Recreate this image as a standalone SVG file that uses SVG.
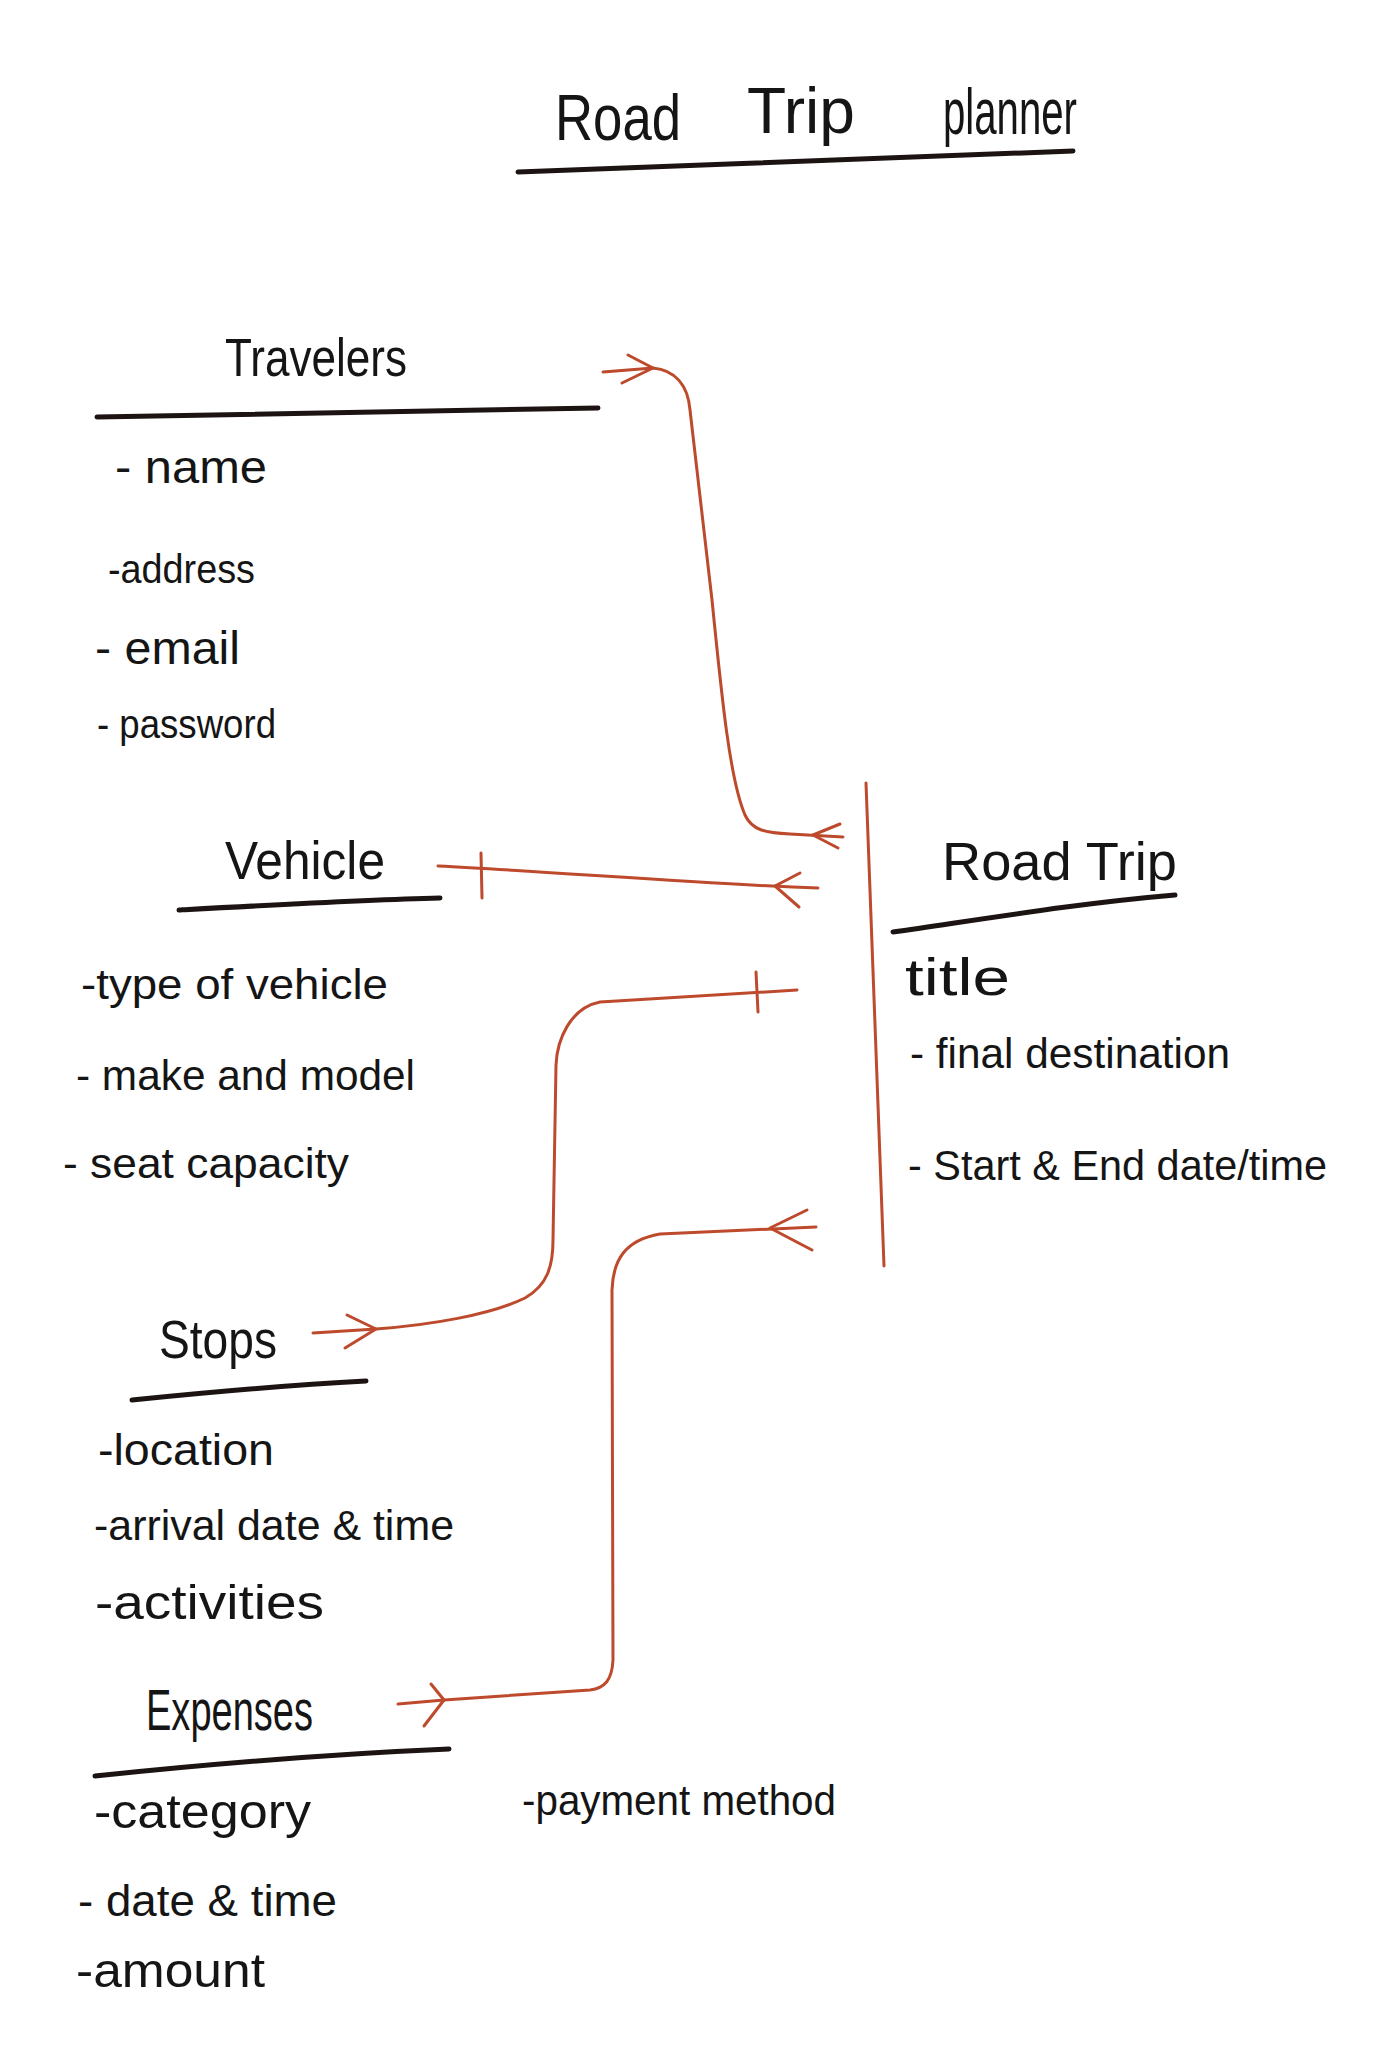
<svg xmlns="http://www.w3.org/2000/svg" width="1393" height="2048" viewBox="0 0 1393 2048">
<style>
  text { font-family: "Liberation Sans", Arial, sans-serif; fill: #151515; }
  .title { font-size: 64px; }
  .hdr { font-size: 54px; }
  .attr { font-size: 42px; }
  .ul { stroke: #1c1412; stroke-width: 5; stroke-linecap: round; fill: none; }
  .conn { stroke: #bd4a2c; stroke-width: 3; fill: none; stroke-linecap: round; stroke-linejoin: round; }
</style>
<rect width="1393" height="2048" fill="#ffffff"/>

<g id="title">
  <text class="title" x="555" y="140" textLength="126" lengthAdjust="spacingAndGlyphs">Road</text>
  <text class="title" x="747" y="133" textLength="108" lengthAdjust="spacingAndGlyphs">Trip</text>
  <text class="title" x="943" y="134" textLength="134" lengthAdjust="spacingAndGlyphs">planner</text>
  <path class="ul" d="M518,172 C700,166 900,156 1073,151"/>
</g>

<g id="travelers">
  <text class="hdr" x="225" y="376" textLength="182" lengthAdjust="spacingAndGlyphs">Travelers</text>
  <path class="ul" d="M97,417 C300,413 450,410 598,408"/>
  <text class="attr" x="115" y="483" style="font-size:46px" textLength="152" lengthAdjust="spacingAndGlyphs">- name</text>
  <text class="attr" x="108" y="583" style="font-size:40px" textLength="147" lengthAdjust="spacingAndGlyphs">-address</text>
  <text class="attr" x="95" y="664" style="font-size:46px" textLength="145" lengthAdjust="spacingAndGlyphs">- email</text>
  <text class="attr" x="97" y="738" style="font-size:40px" textLength="179" lengthAdjust="spacingAndGlyphs">- password</text>
</g>

<g id="vehicle">
  <text class="hdr" x="225" y="879" textLength="160" lengthAdjust="spacingAndGlyphs">Vehicle</text>
  <path class="ul" d="M179,910 C270,905 360,900 440,898"/>
  <text class="attr" x="81" y="999" textLength="307" lengthAdjust="spacingAndGlyphs">-type of vehicle</text>
  <text class="attr" x="76" y="1090" textLength="339" lengthAdjust="spacingAndGlyphs">- make and model</text>
  <text class="attr" x="63" y="1178" textLength="286" lengthAdjust="spacingAndGlyphs">- seat capacity</text>
</g>

<g id="stops">
  <text class="hdr" x="159" y="1358" textLength="118" lengthAdjust="spacingAndGlyphs">Stops</text>
  <path class="ul" d="M132,1400 C210,1392 290,1385 366,1381"/>
  <text class="attr" x="98" y="1465" style="font-size:44px" textLength="176" lengthAdjust="spacingAndGlyphs">-location</text>
  <text class="attr" x="94" y="1540" textLength="360" lengthAdjust="spacingAndGlyphs">-arrival date &amp; time</text>
  <text class="attr" x="95" y="1619" style="font-size:48px" textLength="229" lengthAdjust="spacingAndGlyphs">-activities</text>
</g>

<g id="expenses">
  <text class="hdr" x="146" y="1730" style="font-size:58px" textLength="167" lengthAdjust="spacingAndGlyphs">Expenses</text>
  <path class="ul" d="M95,1776 C210,1764 330,1754 449,1749"/>
  <text class="attr" x="94" y="1828" style="font-size:48px" textLength="217" lengthAdjust="spacingAndGlyphs">-category</text>
  <text class="attr" x="78" y="1916" style="font-size:44px" textLength="259" lengthAdjust="spacingAndGlyphs">- date &amp; time</text>
  <text class="attr" x="76" y="1987" style="font-size:48px" textLength="189" lengthAdjust="spacingAndGlyphs">-amount</text>
  <text class="attr" x="522" y="1815" textLength="314" lengthAdjust="spacingAndGlyphs">-payment method</text>
</g>

<g id="road-trip">
  <path class="conn" d="M866,783 L884,1266"/>
  <text class="hdr" x="942" y="880" textLength="235" lengthAdjust="spacingAndGlyphs">Road Trip</text>
  <path class="ul" d="M893,932 C990,918 1080,903 1175,895"/>
  <text class="attr" x="905" y="995" style="font-size:52px" textLength="105" lengthAdjust="spacingAndGlyphs">title</text>
  <text class="attr" x="910" y="1068" textLength="320" lengthAdjust="spacingAndGlyphs">- final destination</text>
  <text class="attr" x="908" y="1180" textLength="419" lengthAdjust="spacingAndGlyphs">- Start &amp; End date/time</text>
</g>

<g id="connectors">
  <!-- Travelers to Road Trip -->
  <path class="conn" d="M603,372 L653,368 C675,370 688,385 690,410 L712,600 C722,700 730,780 745,815 C752,830 765,833 790,834 L843,837"/>
  <path class="conn" d="M628,355 L653,368 L622,383"/>
  <path class="conn" d="M840,824 L813,835 L838,848"/>
  <!-- Vehicle to Road Trip -->
  <path class="conn" d="M438,866 C560,872 700,884 818,888"/>
  <path class="conn" d="M481,853 L482,898"/>
  <path class="conn" d="M800,873 L775,886 L799,907"/>
  <!-- Stops to Road Trip -->
  <path class="conn" d="M313,1333 L376,1329 C430,1325 490,1315 525,1298 C548,1285 553,1265 553,1240 L556,1065 C557,1040 570,1008 600,1002 L797,990"/>
  <path class="conn" d="M347,1315 L376,1329 L345,1348"/>
  <path class="conn" d="M756,972 L758,1012"/>
  <!-- Expenses to Road Trip -->
  <path class="conn" d="M398,1704 L444,1700 L590,1690 C605,1688 612,1680 613,1660 L612,1290 C613,1260 625,1240 660,1234 L816,1227"/>
  <path class="conn" d="M431,1684 L444,1700 L424,1726"/>
  <path class="conn" d="M807,1210 L770,1228 L812,1250"/>
</g>
</svg>
